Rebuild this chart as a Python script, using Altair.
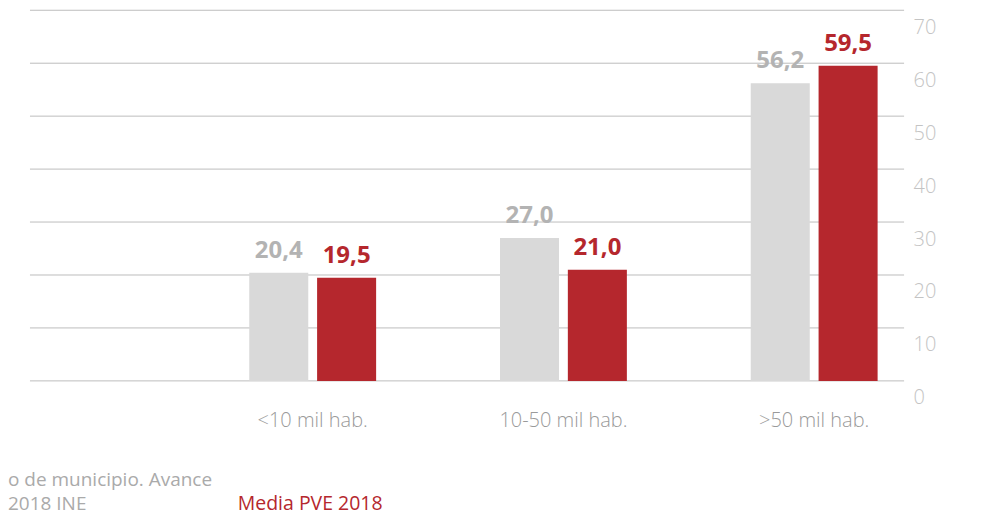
import altair as alt
import pandas as pd

categories = ["<10 mil hab.", "10-50 mil hab.", ">50 mil hab."]
series = ["Avance 2018 INE", "Media PVE 2018"]
ine_values = [20.4, 27.0, 56.2]
pve_values = [19.5, 21.0, 59.5]
bar_colors = ["#d9d9d9", "#b5272d"]
label_colors = ["#b3b3b3", "#b5272d"]
y_ticks = [0, 10, 20, 30, 40, 50, 60, 70]
legend_grey_lines = ["o de municipio. Avance", "2018 INE"]
legend_red = "Media PVE 2018"

FONT = "Open Sans"


def fmt(v):
    return f"{v:.1f}".replace(".", ",")


rows = []
for i, c in enumerate(categories):
    rows.append(dict(cat=c, serie=series[0], value=ine_values[i], label=fmt(ine_values[i])))
    rows.append(dict(cat=c, serie=series[1], value=pve_values[i], label=fmt(pve_values[i])))
df = pd.DataFrame(rows)
grid_df = pd.DataFrame({"value": y_ticks})

x = alt.X(
    "cat:N",
    sort=categories,
    scale=alt.Scale(range=[157.5, 910.5], paddingInner=0.494, paddingOuter=0.247),
    axis=alt.Axis(
        title=None, labelAngle=0, domain=False, ticks=False, grid=False, labelPadding=30,
        labelFont=FONT, labelFontSize=20, labelColor="#9a9a9a", labelFontWeight=300,
    ),
)
xoff = alt.XOffset("serie:N", sort=series, scale=alt.Scale(paddingInner=0.13, paddingOuter=0))
y_scale = alt.Scale(domain=[0, 70], nice=False)
y = alt.Y(
    "value:Q",
    scale=y_scale,
    axis=alt.Axis(
        orient="right", values=y_ticks, title=None, domain=False, ticks=False,
        grid=False, labelPadding=9, labelOffset=17,
        labelFont=FONT, labelFontSize=20, labelColor="#c4c4c4", labelFontWeight=300,
        labelAlign="left",
    ),
)

gridlines = alt.Chart(grid_df).mark_rule(color="#bdbdbd", strokeWidth=1).encode(
    y=y, x=alt.value(0), x2=alt.value("width"),
)

bars = alt.Chart(df).mark_bar().encode(
    x=x, xOffset=xoff, y=y,
    color=alt.Color("serie:N", scale=alt.Scale(domain=series, range=bar_colors), legend=None),
)

labels = alt.Chart(df).mark_text(
    dy=-15, baseline="alphabetic", fontWeight="bold", fontSize=24, font=FONT
).encode(
    x=x, xOffset=xoff, y=y, text="label:N",
    color=alt.Color("serie:N", scale=alt.Scale(domain=series, range=label_colors), legend=None),
)

leg1 = alt.Chart(pd.DataFrame({"t": [legend_grey_lines[0]]})).mark_text(
    align="left", baseline="alphabetic", font=FONT, fontSize=19, color="#aaaaaa"
).encode(text="t:N", x=alt.value(-22), y=alt.value(476))
leg2 = alt.Chart(pd.DataFrame({"t": [legend_grey_lines[1]]})).mark_text(
    align="left", baseline="alphabetic", font=FONT, fontSize=19, color="#aaaaaa"
).encode(text="t:N", x=alt.value(-22), y=alt.value(500))
leg3 = alt.Chart(pd.DataFrame({"t": [legend_red]})).mark_text(
    align="left", baseline="alphabetic", font=FONT, fontSize=19.5, color="#b5272d"
).encode(text="t:N", x=alt.value(208), y=alt.value(500))

chart = (
    alt.layer(gridlines, bars, labels, leg1, leg2, leg3)
    .resolve_scale(color="independent")
    .properties(
        width=875, height=371,
        padding={"left": 22, "top": 2, "right": 80, "bottom": 140},
        autosize=alt.AutoSizeParams(type="none"),
        background="white",
    )
    .configure_view(stroke=None, strokeWidth=0)
    .configure_axisX(grid=False)
)

chart.save("out.html", embed_options={"renderer": "svg", "actions": False})
